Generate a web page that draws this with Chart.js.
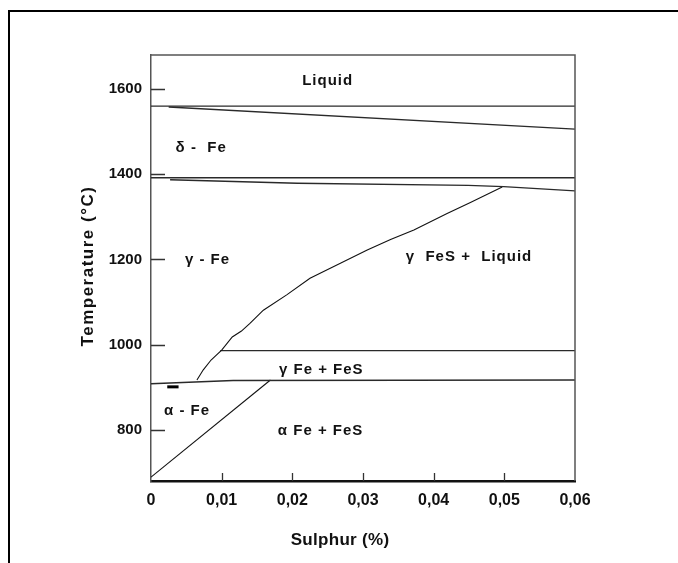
<!DOCTYPE html>
<html>
<head>
<meta charset="utf-8">
<script src="https://cdn.jsdelivr.net/npm/chart.js@4.4.1/dist/chart.umd.min.js"></script>
<style>
  html, body { margin: 0; padding: 0; background: #fff; }
  #wrap { position: relative; width: 678px; height: 563px; overflow: hidden; }
  #frame { position: absolute; left: 8px; top: 10px; width: 800px; height: 800px;
           border-left: 2px solid #000; border-top: 2px solid #000; }
  canvas { position: absolute; left: 0; top: 0; }
</style>
</head>
<body>
<div id="wrap">
  <div id="frame"></div>
  <canvas id="phaseChart" width="678" height="563"></canvas>
</div>
<script>
// Fe-S phase diagram: sulphur (%) against temperature (°C)
const xTicks = [0, 0.01, 0.02, 0.03, 0.04, 0.05, 0.06];
const xTickLabels = ['0', '0,01', '0,02', '0,03', '0,04', '0,05', '0,06'];
const yTicks = [800, 1000, 1200, 1400, 1600];

// boundary lines, [sulphur, temperature]
const liquidusFlat = [[0, 1560], [0.06, 1560]];
const deltaUpper = [[0.0025, 1558], [0.06, 1506]];
const deltaLowerFlat = [[0, 1392], [0.06, 1392]];
const deltaLower = [[0.0027, 1387], [0.0207, 1379], [0.0449, 1374], [0.0499, 1371], [0.06, 1361]];
const gammaSolvus = [
  [0.0065, 917], [0.0074, 941], [0.0085, 964], [0.0100, 987], [0.0115, 1018],
  [0.0128, 1032], [0.0140, 1050], [0.0159, 1081], [0.0192, 1117], [0.0225, 1156],
  [0.0268, 1191], [0.0306, 1222], [0.0339, 1247], [0.0372, 1269], [0.0419, 1308],
  [0.0452, 1334], [0.0497, 1370]
];
const gammaFeSTop = [[0.0098, 986], [0.06, 986]];
const eutectoid = [[0, 908], [0.0116, 916], [0.06, 917]];
const alphaSolvus = [[0, 689], [0.0169, 917]];
const smallMark = [[0.0023, 901], [0.0039, 901]];

// region names and where they sit (sulphur, temperature)
const regionNames = ['Liquid', 'δ -  Fe', 'γ - Fe', 'γ  FeS +  Liquid', 'γ Fe + FeS', 'α - Fe', 'α Fe + FeS'];
const regionX = [0.0250, 0.0071, 0.0080, 0.0450, 0.0241, 0.0051, 0.0240];
const regionY = [1620, 1463, 1199, 1205, 942, 844, 798];

const FONT = "'Liberation Sans', Arial, sans-serif";

const toPoints = (arr) => arr.map(([x, y]) => ({ x, y }));

const line = (pts, width, color) => ({
  data: toPoints(pts),
  showLine: true,
  borderColor: color || '#2a2a2a',
  borderWidth: width || 1.4,
  pointRadius: 0,
  fill: false,
  tension: 0
});

// draws frame top/right, inward ticks, region names and axis titles
const diagramPlugin = {
  id: 'diagram',
  afterDraw(chart) {
    const { ctx, chartArea: a } = chart;
    const xs = chart.scales.x;
    const ys = chart.scales.y;
    ctx.save();

    ctx.strokeStyle = '#555';
    ctx.lineWidth = 1.5;
    ctx.beginPath();
    ctx.moveTo(a.left, a.top);
    ctx.lineTo(a.right, a.top);
    ctx.lineTo(a.right, a.bottom);
    ctx.stroke();

    ctx.strokeStyle = '#333';
    ctx.lineWidth = 1.3;
    ctx.beginPath();
    yTicks.forEach(v => {
      const py = Math.round(ys.getPixelForValue(v)) + 0.5;
      ctx.moveTo(a.left, py);
      ctx.lineTo(a.left + 14, py);
    });
    xTicks.slice(1, -1).forEach(v => {
      const px = Math.round(xs.getPixelForValue(v)) + 0.5;
      ctx.moveTo(px, a.bottom);
      ctx.lineTo(px, a.bottom - 8);
    });
    ctx.stroke();

    ctx.fillStyle = '#111';
    ctx.font = 'bold 15px ' + FONT;
    ctx.letterSpacing = '1px';
    ctx.textAlign = 'center';
    ctx.textBaseline = 'middle';
    regionNames.forEach((t, i) => {
      ctx.fillText(t, xs.getPixelForValue(regionX[i]), ys.getPixelForValue(regionY[i]));
    });

    ctx.font = 'bold 17px ' + FONT;
    ctx.letterSpacing = '0.3px';
    ctx.fillText('Sulphur (%)', a.left + 189, 540);

    ctx.translate(88, 266);
    ctx.rotate(-Math.PI / 2);
    ctx.letterSpacing = '1.5px';
    ctx.fillText('Temperature (°C)', 0, 0);

    ctx.restore();
  }
};

new Chart(document.getElementById('phaseChart'), {
  type: 'scatter',
  data: {
    datasets: [
      line(liquidusFlat),
      line(deltaUpper),
      line(deltaLowerFlat, 1.6),
      line(deltaLower),
      line(gammaSolvus, 1.1, '#111'),
      line(gammaFeSTop),
      line(eutectoid, 1.5),
      line(alphaSolvus, 1.1, '#111'),
      line(smallMark, 3, '#000')
    ]
  },
  options: {
    responsive: false,
    animation: false,
    layout: { padding: { top: 55, right: 103, left: 0, bottom: 0 } },
    plugins: {
      legend: { display: false },
      tooltip: { enabled: false }
    },
    scales: {
      x: {
        type: 'linear',
        min: 0,
        max: 0.06,
        afterBuildTicks: s => { s.ticks = xTicks.map(v => ({ value: v })); },
        afterFit: s => { s.height = 82; },
        grid: { display: false, drawTicks: false },
        border: { color: '#111', width: 2.5 },
        ticks: {
          callback: (v, i) => xTickLabels[i],
          autoSkip: false,
          maxRotation: 0,
          padding: 10,
          color: '#111',
          font: { family: FONT, size: 16, weight: 'bold' }
        }
      },
      y: {
        type: 'linear',
        min: 680,
        max: 1680,
        afterBuildTicks: s => { s.ticks = yTicks.map(v => ({ value: v })); },
        afterFit: s => { s.width = 151; },
        grid: { display: false, drawTicks: false },
        border: { color: '#555', width: 1.5 },
        ticks: {
          callback: v => String(v),
          padding: 9,
          color: '#111',
          font: { family: FONT, size: 15, weight: 'bold' }
        }
      }
    }
  },
  plugins: [diagramPlugin]
});
</script>
</body>
</html>
